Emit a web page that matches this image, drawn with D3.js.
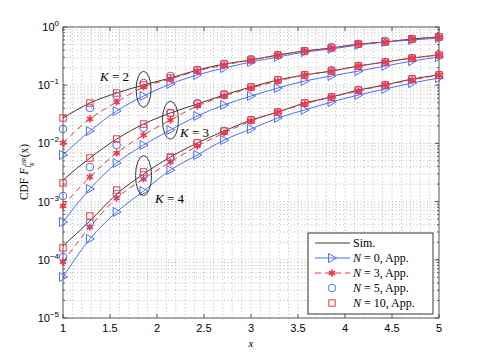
<!DOCTYPE html>
<html>
<head>
<meta charset="utf-8">
<script src="https://cdn.jsdelivr.net/npm/d3@7"></script>
<style>
  body { margin: 0; background: #fff; }
  svg { display: block; }
</style>
</head>
<body>
<svg id="chart" width="485" height="360"></svg>
<script>
// x sample points of the markers
const xVals = [1, 1.286, 1.571, 1.857, 2.143, 2.429, 2.714, 3, 3.286, 3.571, 3.857, 4.143, 4.429, 4.714, 5];

// K = 2
const k2Sim = [0.0273, 0.0494, 0.0734, 0.101, 0.133, 0.182, 0.231, 0.271, 0.330, 0.387, 0.436, 0.510, 0.552, 0.622, 0.673];
const k2N0 = [0.00632, 0.0163, 0.0360, 0.0652, 0.105, 0.150, 0.197, 0.250, 0.305, 0.372, 0.419, 0.491, 0.552, 0.598, 0.647];
const k2N3 = [0.0102, 0.0263, 0.0514, 0.0931, 0.128, 0.175, 0.222, 0.271, 0.330, 0.387, 0.436, 0.510, 0.552, 0.622, 0.673];
const k2N5 = [0.0177, 0.0406, 0.0652, 0.109, 0.144, 0.182, 0.231, 0.282, 0.330, 0.387, 0.453, 0.510, 0.575, 0.622, 0.673];
const k2N10 = [0.0273, 0.0494, 0.0734, 0.101, 0.133, 0.182, 0.231, 0.271, 0.330, 0.387, 0.436, 0.510, 0.552, 0.622, 0.673];

// K = 3
const k3Sim = [0.00235, 0.00561, 0.0119, 0.0215, 0.0333, 0.0475, 0.0679, 0.0931, 0.123, 0.150, 0.175, 0.214, 0.250, 0.293, 0.330];
const k3N0 = [0.000446, 0.00165, 0.00460, 0.00939, 0.0170, 0.0296, 0.0457, 0.0652, 0.0895, 0.118, 0.144, 0.175, 0.214, 0.260, 0.305];
const k3N3 = [0.000840, 0.00265, 0.00684, 0.0139, 0.0252, 0.0439, 0.0652, 0.0895, 0.118, 0.150, 0.175, 0.214, 0.250, 0.293, 0.330];
const k3N5 = [0.00125, 0.00393, 0.00939, 0.0184, 0.0333, 0.0494, 0.0706, 0.0931, 0.123, 0.150, 0.182, 0.214, 0.250, 0.293, 0.330];
const k3N10 = [0.00209, 0.00561, 0.0119, 0.0215, 0.0333, 0.0475, 0.0679, 0.0931, 0.123, 0.150, 0.175, 0.214, 0.250, 0.293, 0.330];

// K = 4
const k4Sim = [0.000173, 0.000464, 0.00135, 0.00298, 0.00584, 0.0102, 0.0163, 0.0252, 0.0346, 0.0494, 0.0627, 0.0827, 0.101, 0.128, 0.150];
const k4N0 = [0.0000506, 0.000228, 0.000663, 0.00152, 0.00349, 0.00632, 0.0114, 0.0177, 0.0273, 0.0375, 0.0514, 0.0679, 0.0861, 0.109, 0.133];
const k4N3 = [0.0000917, 0.000366, 0.00115, 0.00245, 0.00479, 0.00902, 0.0151, 0.0243, 0.0346, 0.0475, 0.0627, 0.0795, 0.101, 0.123, 0.150];
const k4N5 = [0.000112, 0.000429, 0.00135, 0.00286, 0.00561, 0.0102, 0.0163, 0.0252, 0.0346, 0.0494, 0.0627, 0.0827, 0.101, 0.128, 0.150];
const k4N10 = [0.000160, 0.000566, 0.00158, 0.00323, 0.00584, 0.0102, 0.0163, 0.0252, 0.0346, 0.0494, 0.0627, 0.0827, 0.101, 0.128, 0.150];

const xTicks = [1, 1.5, 2, 2.5, 3, 3.5, 4, 4.5, 5];
const yTicks = [1e-5, 1e-4, 1e-3, 1e-2, 1e-1, 1];
const yExps = ['\u22125', '\u22124', '\u22123', '\u22122', '\u22121', '0'];

const legendLabels = ['Sim.', '0', '3', '5', '10'];

// ellipse annotations
const kNotes = [
  { k: 2, x: 1.857, y: 0.085 },
  { k: 3, x: 2.143, y: 0.025 },
  { k: 4, x: 1.857, y: 0.0028 },
];

const blue = '#4d6ef8';
const red = '#f5343a';
const serif = '"Liberation Serif", "DejaVu Serif", serif';
const sans = '"Liberation Sans", Arial, sans-serif';

const svg = d3.select('#chart');
const pLeft = 63, pRight = 439, pTop = 27, pBottom = 318;

const xScale = d3.scaleLinear().domain([1, 5]).range([pLeft, pRight]);
const yScale = d3.scaleLog().domain([1e-5, 1]).range([pBottom, pTop]);

// grid
const grid = svg.append('g').attr('stroke', '#a8a8a8').attr('stroke-width', 0.8)
  .attr('stroke-dasharray', '1,2.5');
d3.range(11, 50).map(d => d / 10).forEach((v) => {
  grid.append('line')
    .attr('x1', xScale(v)).attr('x2', xScale(v))
    .attr('y1', pTop).attr('y2', pBottom);
});
const yMinor = [];
[-5, -4, -3, -2, -1].forEach((e) => {
  for (let m = 1; m <= 9; m++) yMinor.push(m * Math.pow(10, e));
});
yMinor.filter(v => v > 1e-5).forEach((v) => {
  grid.append('line')
    .attr('x1', pLeft).attr('x2', pRight)
    .attr('y1', yScale(v)).attr('y2', yScale(v));
});

// axes box + ticks
const axes = svg.append('g').attr('stroke', '#555').attr('stroke-width', 1);
axes.append('rect')
  .attr('x', pLeft).attr('y', pTop)
  .attr('width', pRight - pLeft).attr('height', pBottom - pTop)
  .attr('fill', 'none');
xTicks.forEach((v) => {
  axes.append('line').attr('x1', xScale(v)).attr('x2', xScale(v)).attr('y1', pBottom).attr('y2', pBottom - 4);
  axes.append('line').attr('x1', xScale(v)).attr('x2', xScale(v)).attr('y1', pTop).attr('y2', pTop + 4);
});
yTicks.forEach((v) => {
  axes.append('line').attr('x1', pLeft).attr('x2', pLeft + 4).attr('y1', yScale(v)).attr('y2', yScale(v));
  axes.append('line').attr('x1', pRight).attr('x2', pRight - 4).attr('y1', yScale(v)).attr('y2', yScale(v));
});
yMinor.filter(v => v > 1e-5).forEach((v) => {
  axes.append('line').attr('x1', pLeft).attr('x2', pLeft + 2).attr('y1', yScale(v)).attr('y2', yScale(v));
  axes.append('line').attr('x1', pRight).attr('x2', pRight - 2).attr('y1', yScale(v)).attr('y2', yScale(v));
});

// tick labels
svg.append('g').selectAll('text')
  .data(xTicks)
  .join('text')
    .attr('x', d => xScale(d))
    .attr('y', pBottom + 14)
    .attr('text-anchor', 'middle')
    .attr('font-family', sans)
    .attr('font-size', 11)
    .text(d => d);

const yLab = svg.append('g').selectAll('text')
  .data(yTicks)
  .join('text')
    .attr('x', pLeft - 4)
    .attr('y', d => yScale(d) + 4)
    .attr('text-anchor', 'end')
    .attr('font-family', sans)
    .attr('font-size', 11);
yLab.append('tspan').text('10');
yLab.append('tspan')
  .attr('font-size', 8)
  .attr('dy', -5)
  .text((d, i) => yExps[i]);

// axis titles
svg.append('text')
  .attr('x', (pLeft + pRight) / 2)
  .attr('y', 347)
  .attr('text-anchor', 'middle')
  .attr('font-family', serif)
  .attr('font-style', 'italic')
  .attr('font-size', 11)
  .text('x');

const yTitle = svg.append('text')
  .attr('transform', 'translate(28,172) rotate(-90)')
  .attr('text-anchor', 'middle')
  .attr('font-family', serif)
  .attr('font-size', 11.5);
yTitle.append('tspan').text('CDF ');
yTitle.append('tspan').attr('font-style', 'italic').text('F');
yTitle.append('tspan').attr('font-style', 'italic').attr('font-size', 7.5).attr('dy', 3).text('I');
yTitle.append('tspan').attr('font-style', 'italic').attr('font-size', 5.5).attr('dy', -5).text('HR');
yTitle.append('tspan').attr('font-style', 'italic').attr('font-size', 5.5).attr('dx', -8).attr('dy', 8).text('K');
yTitle.append('tspan').attr('dx', 5).attr('dy', -6).text('(x)');

// series
const groups = [
  { sim: k2Sim, n0: k2N0, n3: k2N3, n5: k2N5, n10: k2N10 },
  { sim: k3Sim, n0: k3N0, n3: k3N3, n5: k3N5, n10: k3N10 },
  { sim: k4Sim, n0: k4N0, n3: k4N3, n5: k4N5, n10: k4N10 },
];

const line = d3.line()
  .x(d => xScale(d[0]))
  .y(d => yScale(d[1]))
  .curve(d3.curveMonotoneX);

const pts = vals => xVals.map((x, i) => [x, vals[i]]);

const triPath = 'M-3.5,-4.5L4.5,0L-3.5,4.5Z';
const starPath = d3.symbol(d3.symbolAsterisk, 36)();
const circR = 3.8;
const sq = 6.4;

const plot = svg.append('g');

groups.forEach((g) => {
  plot.append('path').datum(pts(g.sim))
    .attr('d', line).attr('fill', 'none').attr('stroke', '#222').attr('stroke-width', 0.9);
  plot.append('path').datum(pts(g.n0))
    .attr('d', line).attr('fill', 'none').attr('stroke', blue).attr('stroke-width', 1);
  plot.append('path').datum(pts(g.n3))
    .attr('d', line).attr('fill', 'none').attr('stroke', red).attr('stroke-width', 1)
    .attr('stroke-dasharray', '6,4');
});

groups.forEach((g) => {
  plot.append('g').selectAll('path')
    .data(pts(g.n0))
    .join('path')
      .attr('d', triPath)
      .attr('transform', d => `translate(${xScale(d[0])},${yScale(d[1])})`)
      .attr('fill', 'none').attr('stroke', blue).attr('stroke-width', 1);
  plot.append('g').selectAll('path')
    .data(pts(g.n3))
    .join('path')
      .attr('d', starPath)
      .attr('transform', d => `translate(${xScale(d[0])},${yScale(d[1])})`)
      .attr('fill', 'none').attr('stroke', red).attr('stroke-width', 1.6);
  plot.append('g').selectAll('circle')
    .data(pts(g.n5))
    .join('circle')
      .attr('cx', d => xScale(d[0]))
      .attr('cy', d => yScale(d[1]))
      .attr('r', circR)
      .attr('fill', 'none').attr('stroke', blue).attr('stroke-width', 1);
  plot.append('g').selectAll('rect')
    .data(pts(g.n10))
    .join('rect')
      .attr('x', d => xScale(d[0]) - sq / 2)
      .attr('y', d => yScale(d[1]) - sq / 2)
      .attr('width', sq).attr('height', sq)
      .attr('fill', 'none').attr('stroke', red).attr('stroke-width', 1);
});

// K annotations
const notePos = [
  { lx: 100, ly: 81, rx: 7.5, ry: 18 },
  { lx: 180, ly: 137, rx: 8, ry: 19 },
  { lx: 155, ly: 203, rx: 8, ry: 20 },
];
kNotes.forEach((n, i) => {
  const p = notePos[i];
  plot.append('ellipse')
    .attr('cx', xScale(n.x)).attr('cy', yScale(n.y))
    .attr('rx', p.rx).attr('ry', p.ry)
    .attr('fill', 'none').attr('stroke', '#222').attr('stroke-width', 0.9);
  const t = plot.append('text')
    .attr('x', p.lx).attr('y', p.ly)
    .attr('font-family', serif)
    .attr('font-size', 13);
  t.append('tspan').attr('font-style', 'italic').text('K');
  t.append('tspan').text(` = ${n.k}`);
});

// legend
const lg = svg.append('g');
lg.append('rect')
  .attr('x', 308).attr('y', 233).attr('width', 125).attr('height', 81)
  .attr('fill', '#fff').attr('stroke', '#222').attr('stroke-width', 0.9);
legendLabels.forEach((lab, i) => {
  const y = 243 + i * 15;
  if (i === 0) {
    lg.append('line').attr('x1', 315).attr('x2', 350).attr('y1', y).attr('y2', y)
      .attr('stroke', '#222').attr('stroke-width', 0.9);
  } else if (i === 1) {
    lg.append('line').attr('x1', 315).attr('x2', 350).attr('y1', y).attr('y2', y)
      .attr('stroke', blue).attr('stroke-width', 1);
    lg.append('path').attr('d', triPath).attr('transform', `translate(332,${y})`)
      .attr('fill', 'none').attr('stroke', blue);
  } else if (i === 2) {
    lg.append('line').attr('x1', 315).attr('x2', 350).attr('y1', y).attr('y2', y)
      .attr('stroke', red).attr('stroke-width', 1).attr('stroke-dasharray', '6,4');
    lg.append('path').attr('d', starPath).attr('transform', `translate(332,${y})`)
      .attr('fill', 'none').attr('stroke', red).attr('stroke-width', 1.6);
  } else if (i === 3) {
    lg.append('circle').attr('cx', 332).attr('cy', y).attr('r', circR)
      .attr('fill', 'none').attr('stroke', blue);
  } else {
    lg.append('rect').attr('x', 332 - sq / 2).attr('y', y - sq / 2).attr('width', sq).attr('height', sq)
      .attr('fill', 'none').attr('stroke', red);
  }
  const t = lg.append('text')
    .attr('x', 353).attr('y', y + 4)
    .attr('font-family', serif)
    .attr('font-size', 12);
  if (i === 0) {
    t.text(lab);
  } else {
    t.append('tspan').attr('font-style', 'italic').text('N');
    t.append('tspan').text(` = ${lab}, App.`);
  }
});
</script>
</body>
</html>
